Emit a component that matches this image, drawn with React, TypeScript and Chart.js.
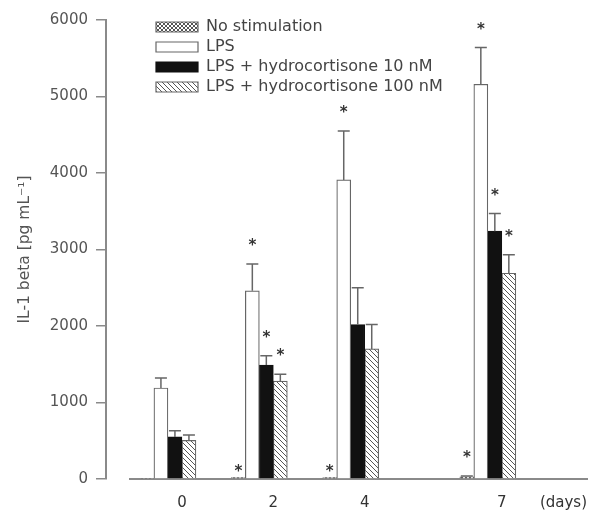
import { useEffect, useRef } from 'react';
import { Chart, registerables } from 'chart.js';

Chart.register(...registerables);

// ---- data ----
const days = [0, 2, 4, 7];
const dayTicks = [0, 2, 4, 7];
const seriesNames = [
  'No stimulation',
  'LPS',
  'LPS + hydrocortisone 10 nM',
  'LPS + hydrocortisone 100 nM',
];
const noStim = [10, 20, 20, 30];
const noStimErr = [0, 0, 0, 10];
const noStimSig = [false, true, true, true];

const lps = [1190, 2460, 3910, 5160];
const lpsErr = [130, 350, 640, 480];
const lpsSig = [false, true, true, true];

const hc10 = [550, 1490, 2020, 3240];
const hc10Err = [80, 120, 480, 230];
const hc10Sig = [false, true, false, true];

const hc100 = [505, 1280, 1700, 2690];
const hc100Err = [70, 90, 320, 240];
const hc100Sig = [false, true, false, true];

const yTitle = 'IL-1 beta [pg mL\u207B\u00B9]';
const xUnit = '(days)';

const FONT = 'DejaVu Sans';
const TEXT = '#444';
const AXIS = '#8a8a8a';
const EDGE = '#666';

function makePattern(kind: 'diag' | 'cross'): CanvasPattern | string {
  const s = kind === 'diag' ? 5 : 4;
  const c = document.createElement('canvas');
  c.width = s;
  c.height = s;
  const g = c.getContext('2d');
  if (!g) return '#ccc';
  g.fillStyle = '#fff';
  g.fillRect(0, 0, s, s);
  g.strokeStyle = '#555';
  g.lineWidth = 1;
  g.beginPath();
  g.moveTo(-1, -1);
  g.lineTo(s + 1, s + 1);
  g.moveTo(s - 1, -1);
  g.lineTo(s + 1, 1);
  g.moveTo(-1, s - 1);
  g.lineTo(1, s + 1);
  if (kind === 'cross') {
    g.moveTo(s + 1, -1);
    g.lineTo(-1, s + 1);
    g.moveTo(1, -1);
    g.lineTo(-1, 1);
    g.moveTo(s + 1, s - 1);
    g.lineTo(s - 1, s + 1);
  }
  g.stroke();
  return g.createPattern(c, 'repeat') || '#ccc';
}

const errorBarPlugin = {
  id: 'errorBars',
  afterDatasetsDraw(chart: any) {
    const ctx = chart.ctx;
    const yScale = chart.scales.y;
    chart.data.datasets.forEach((ds: any, i: number) => {
      const meta = chart.getDatasetMeta(i);
      meta.data.forEach((el: any, j: number) => {
        const v = ds.data[j].y;
        const e = ds.errors ? ds.errors[j] : 0;
        const x = el.x;
        const yBar = yScale.getPixelForValue(v);
        const yTop = yScale.getPixelForValue(v + e);
        ctx.save();
        if (e > 0) {
          ctx.strokeStyle = EDGE;
          ctx.lineWidth = 1.5;
          ctx.beginPath();
          ctx.moveTo(x, yBar);
          ctx.lineTo(x, yTop);
          ctx.moveTo(x - 6, yTop);
          ctx.lineTo(x + 6, yTop);
          ctx.stroke();
        }
        if (ds.stars && ds.stars[j]) {
          ctx.fillStyle = '#333';
          ctx.font = `bold 15px "${FONT}"`;
          ctx.textAlign = 'center';
          ctx.textBaseline = 'alphabetic';
          ctx.fillText('*', x, yTop - (e > 0 ? 14 : 1));
        }
        ctx.restore();
      });
    });
  },
};

const legendShiftPlugin = {
  id: 'legendShift',
  afterLayout(chart: any) {
    const lg = chart.legend;
    if (!lg) return;
    lg.left = chart.chartArea.left + 22;
    lg.top = chart.chartArea.top - 5;
  },
};

export default function App() {
  const ref = useRef<HTMLCanvasElement | null>(null);
  useEffect(() => {
    if (!ref.current) return;
    const diag = makePattern('diag');
    const cross = makePattern('cross');
    const mk = (
      label: string,
      vals: number[],
      errs: number[],
      sig: boolean[],
      bg: any,
      border: string
    ) => ({
      label,
      data: days.map((d, i) => ({ x: d, y: vals[i] })),
      errors: errs,
      stars: sig,
      backgroundColor: bg,
      borderColor: border,
      borderWidth: 1.2,
      barThickness: 14,
      xAxisID: 'x',
      yAxisID: 'y',
    });
    const font = { family: FONT, size: 15 };
    const chart = new Chart(ref.current, {
      type: 'bar',
      data: {
        datasets: [
          mk(seriesNames[0], noStim, noStimErr, noStimSig, cross, EDGE),
          mk(seriesNames[1], lps, lpsErr, lpsSig, '#ffffff', EDGE),
          mk(seriesNames[2], hc10, hc10Err, hc10Sig, '#111111', '#111111'),
          mk(seriesNames[3], hc100, hc100Err, hc100Sig, diag, EDGE),
        ] as any,
      },
      options: {
        responsive: false,
        animation: false,
        layout: { padding: { top: 20, right: 3, left: 0, bottom: 0 } },
        scales: {
          x: {
            type: 'linear',
            min: -0.83,
            max: 9.17,
            offset: false,
            grid: { display: false, drawTicks: false },
            border: { display: true, color: AXIS, width: 2 },
            ticks: {
              padding: 15,
              labelOffset: 14,
              font,
              color: '#333',
              callback: (v: any) => String(v),
            },
            afterBuildTicks: (s: any) => {
              s.ticks = dayTicks.map((v) => ({ value: v }));
            },
            afterFit: (s: any) => {
              s.height = 36;
            },
            title: {
              display: true,
              text: xUnit,
              align: 'end',
              padding: { top: 0, bottom: 3 },
              font,
              color: '#333',
            },
          },
          y: {
            type: 'linear',
            position: 'left',
            weight: 10,
            min: 0,
            max: 6000,
            ticks: {
              stepSize: 1000,
              padding: 8,
              font,
              color: '#555',
              callback: (v: any) => String(v),
            },
            grid: {
              drawOnChartArea: false,
              drawTicks: true,
              tickLength: 10,
              color: AXIS,
              lineWidth: 1.5,
            },
            border: { color: AXIS, width: 2 },
            title: {
              display: true,
              text: yTitle,
              padding: { top: 16, bottom: 0 },
              font: { family: FONT, size: 15.5 },
              color: '#555',
            },
            afterFit: (s: any) => {
              s.width = 106;
            },
          },
          gap: {
            type: 'linear',
            position: 'left',
            weight: 0,
            display: true,
            grid: { display: false },
            ticks: { display: false },
            border: { display: false },
            afterFit: (s: any) => {
              s.width = 24;
            },
          },
        },
        plugins: {
          legend: {
            position: 'chartArea',
            align: 'start',
            labels: {
              boxWidth: 42,
              boxHeight: 10,
              padding: 4,
              font: { family: FONT, size: 16 },
              color: TEXT,
            },
          },
          tooltip: { enabled: false },
        },
      } as any,
      plugins: [errorBarPlugin, legendShiftPlugin],
    });
    return () => chart.destroy();
  }, []);
  return (
    <div style={{ position: 'fixed', left: 0, top: 0, width: 590, height: 515, background: '#fff' }}>
      <canvas ref={ref} width={590} height={515} style={{ display: 'block' }} />
    </div>
  );
}
